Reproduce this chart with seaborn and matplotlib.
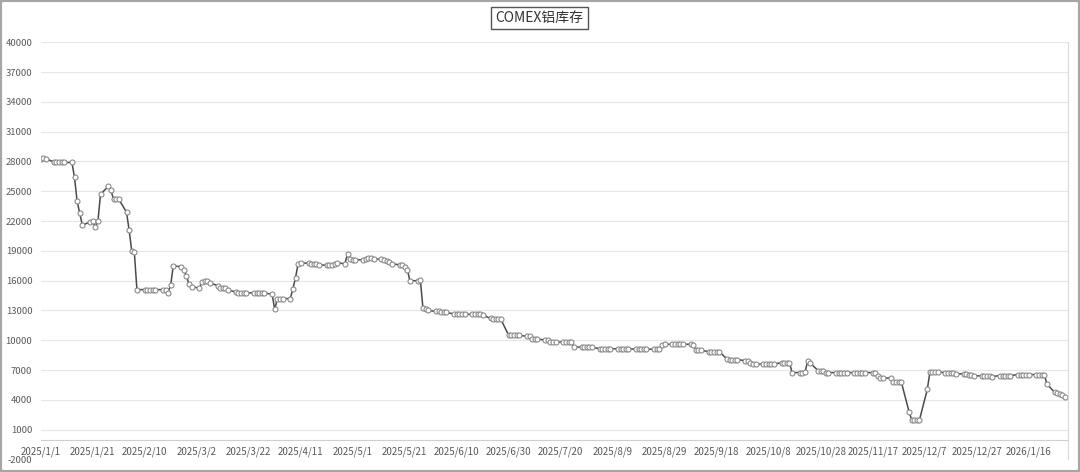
import pandas as pd
import matplotlib.pyplot as plt
import matplotlib.patches as mpatches
import matplotlib.ticker as mticker
import seaborn as sns
plt.switch_backend("Agg")

# COMEX aluminium stocks, one value per business day
start_date = "2025-01-01"
end_date = "2026-01-30"
stock = [
    28300, 28350, 28300,                      # 1/1
    27950, 27900, 27900, 27900, 27900,        # 1/6
    27900, 26400, 24000, 22800, 21600,        # 1/13
    21900, 22000, 21400, 22000, 24700,        # 1/20
    25500, 25100, 24200, 24200, 24200,        # 1/27
    22900, 21100, 19000, 18900, 15100,        # 2/3
    15100, 15100, 15100, 15100, 15100,        # 2/10
    15100, 15100, 14800, 15600, 17500,        # 2/17
    17400, 17100, 16500, 15700, 15400,        # 2/24
    15250, 15850, 16000, 16000, 15800,        # 3/3
    15500, 15300, 15300, 15300, 15100,        # 3/10
    14850, 14800, 14800, 14800, 14800,        # 3/17
    14750, 14750, 14750, 14750, 14750,        # 3/24
    14650, 13100, 14200, 14200, 14200,        # 3/31
    14200, 15200, 16300, 17700, 17800,        # 4/7
    17750, 17700, 17700, 17650, 17600,        # 4/14
    17550, 17550, 17600, 17650, 17800,        # 4/21
    17700, 18700, 18200, 18100, 18100,        # 4/28
    18100, 18200, 18250, 18250, 18200,        # 5/5
    18150, 18100, 18000, 17900, 17700,        # 5/12
    17600, 17600, 17400, 17100, 16000,        # 5/19
    16000, 16100, 13300, 13200, 13000,        # 5/26
    12900, 12900, 12850, 12800, 12800,        # 6/2
    12650, 12650, 12650, 12650, 12650,        # 6/9
    12600, 12600, 12600, 12600, 12550,        # 6/16
    12200, 12150, 12150, 12100, 12100,        # 6/23
    10500, 10500, 10500, 10500, 10500,        # 6/30
    10400, 10400, 10100, 10100, 10100,        # 7/7
    10050, 10050, 9800, 9800, 9800,           # 7/14
    9850, 9850, 9850, 9850, 9350,             # 7/21
    9300, 9300, 9300, 9300, 9300,             # 7/28
    9150, 9150, 9150, 9150, 9150,             # 8/4
    9150, 9150, 9150, 9150, 9150,             # 8/11
    9100, 9100, 9100, 9100, 9100,             # 8/18
    9100, 9100, 9100, 9550, 9600,             # 8/25
    9600, 9600, 9600, 9600, 9600,             # 9/1
    9600, 9550, 9000, 9000, 9000,             # 9/8
    8850, 8850, 8850, 8850, 8850,             # 9/15
    8100, 8050, 8050, 8050, 8050,             # 9/22
    7950, 7950, 7700, 7600, 7600,             # 9/29
    7600, 7600, 7600, 7600, 7600,             # 10/6
    7750, 7750, 7750, 7750, 6750,             # 10/13
    6750, 6750, 6800, 7950, 7700,             # 10/20
    6950, 6900, 6900, 6750, 6750,             # 10/27
    6750, 6750, 6750, 6750, 6750,             # 11/3
    6750, 6750, 6750, 6750, 6750,             # 11/10
    6750, 6750, 6450, 6200, 6200,             # 11/17
    6200, 5800, 5800, 5800, 5800,             # 11/24
    2800, 2000, 2000, 2000, 2000,             # 12/1
    5050, 6800, 6800, 6800, 6800,             # 12/8
    6750, 6750, 6750, 6750, 6650,             # 12/15
    6600, 6600, 6550, 6500, 6450,             # 12/22
    6400, 6400, 6400, 6400, 6350,             # 12/29
    6450, 6450, 6450, 6450, 6450,             # 1/5
    6550, 6550, 6550, 6550, 6550,             # 1/12
    6550, 6550, 6550, 6550, 5600,             # 1/19
    4750, 4700, 4600, 4500, 4300,             # 1/26
]
dates = pd.bdate_range(start_date, end_date)
df = pd.DataFrame({"date": dates, "stock": stock})

y_ticks = list(range(-2000, 40001, 3000))
x_ticks = pd.date_range("2025-01-01", "2026-01-16", freq="20D")
x_labels = [f"{d.year}/{d.month}/{d.day}" for d in x_ticks]

sns.set_theme(style="white")
plt.rcParams["font.family"] = ["Noto Sans CJK SC", "DejaVu Sans"]

fig = plt.figure(figsize=(10.8, 4.72), dpi=100)
ax = fig.add_axes([0.0377, 0.0265, 0.9509, 0.8839])

sns.lineplot(data=df, x="date", y="stock", ax=ax, color="#4a4a4a", linewidth=1.1,
             marker="o", markersize=3.6, markerfacecolor="white",
             markeredgecolor="#8a8a8a", markeredgewidth=0.8)

ax.set_xlim(pd.Timestamp("2025-01-01"), pd.Timestamp("2026-01-31"))
ax.set_ylim(-2000, 40000)
ax.yaxis.set_major_locator(mticker.FixedLocator(y_ticks))
ax.yaxis.set_major_formatter(mticker.FixedFormatter([str(v) for v in y_ticks]))
ax.xaxis.set_major_locator(mticker.FixedLocator([mdate for mdate in
                                                 plt.matplotlib.dates.date2num(x_ticks)]))
ax.xaxis.set_major_formatter(mticker.FixedFormatter(x_labels))
ax.set_xlabel("")
ax.set_ylabel("")
ax.grid(axis="y", color="#e6e6e6", linewidth=0.8)
ax.tick_params(axis="y", length=0, pad=6, labelsize=6.8, labelcolor="#595959")
ax.tick_params(axis="x", length=3, width=0.8, color="#bfbfbf", direction="out", pad=2,
               labelsize=7, labelcolor="#595959")

for side in ["top", "left"]:
    ax.spines[side].set_visible(False)
ax.spines["right"].set_color("#d9d9d9")
ax.spines["right"].set_linewidth(0.8)
ax.spines["bottom"].set_position(("data", 0))
ax.spines["bottom"].set_color("#cfcfcf")
ax.spines["bottom"].set_linewidth(0.8)

fig.text(0.4995, 0.962, "COMEX铝库存", ha="center", va="center", fontsize=10,
         color="#333333",
         bbox=dict(boxstyle="square,pad=0.3", fc="white", ec="#555555", lw=1))

fig.patches.append(mpatches.Rectangle((0, 0), 1, 1, transform=fig.transFigure,
                                      fill=False, ec="#a6a6a6", lw=3))

fig.savefig("out.png", dpi=100)
